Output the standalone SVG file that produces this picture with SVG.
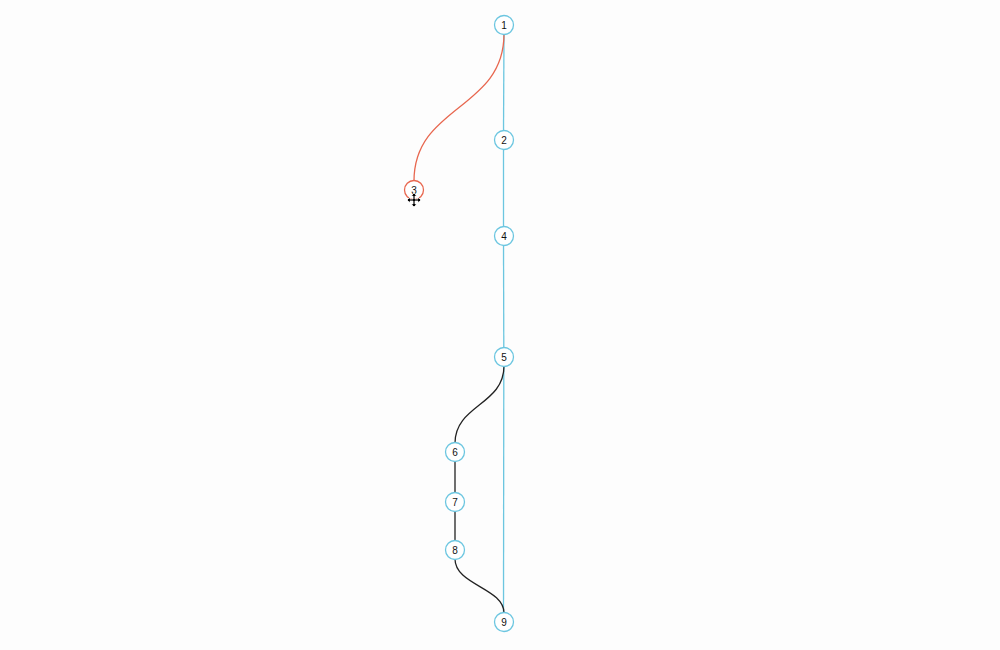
<svg xmlns="http://www.w3.org/2000/svg" width="1000" height="650" viewBox="0 0 1000 650">
<style>
.n circle{fill:#fff;stroke:#6cc6e0;stroke-width:1.3}
.n.red circle{stroke:#e8674f}
.n text{font-family:"Liberation Sans",Arial,sans-serif;font-size:10px;fill:#111;text-anchor:middle;dominant-baseline:central}
.e{fill:none;stroke-width:1.3}
.blue{stroke:#6cc6e0}
.redl{stroke:#e8674f}
.blk{stroke:#222}
</style>
<rect width="1000" height="650" fill="#fdfdfd"/>
<g id="connectors">
<path class="e blue" d="M504,34 L503.5,131"/>
<path class="e blue" d="M503.5,149 L503.5,227"/>
<path class="e blue" d="M503.5,245 L503.8,348"/>
<path class="e blue" d="M503.8,366 L503.5,613"/>
<path class="e redl" d="M504,34 C504,110 414,105 414,181"/>
<path class="e blk" d="M504,366 C504,405 455,405 455,443"/>
<path class="e blk" d="M455,461 L455,493"/>
<path class="e blk" d="M455,511 L455,541"/>
<path class="e blk" d="M455,559 C455,585 504,588 504,613"/>
</g>
<g id="node1" class="n"><circle cx="504" cy="25" r="9.5"/><text x="504" y="25">1</text></g>
<g id="node2" class="n"><circle cx="504" cy="140" r="9.5"/><text x="504" y="140">2</text></g>
<g id="node3" class="n red"><circle cx="414" cy="190" r="9.5"/><text x="414" y="190">3</text></g>
<g id="node4" class="n"><circle cx="504" cy="236" r="9.5"/><text x="504" y="236">4</text></g>
<g id="node5" class="n"><circle cx="504" cy="357" r="9.5"/><text x="504" y="357">5</text></g>
<g id="node6" class="n"><circle cx="455" cy="452" r="9.5"/><text x="455" y="452">6</text></g>
<g id="node7" class="n"><circle cx="455" cy="502" r="9.5"/><text x="455" y="502">7</text></g>
<g id="node8" class="n"><circle cx="455" cy="550" r="9.5"/><text x="455" y="550">8</text></g>
<g id="node9" class="n"><circle cx="504" cy="622" r="9.5"/><text x="504" y="622">9</text></g>
<g id="cursor" transform="translate(414,200)">
<path d="M0,-7 L3,-4 L1,-4 L1,-1 L4,-1 L4,-3 L7,0 L4,3 L4,1 L1,1 L1,4 L3,4 L0,7 L-3,4 L-1,4 L-1,1 L-4,1 L-4,3 L-7,0 L-4,-3 L-4,-1 L-1,-1 L-1,-4 L-3,-4 Z" fill="#000" stroke="#fff" stroke-width="0.8"/>
</g>
</svg>
